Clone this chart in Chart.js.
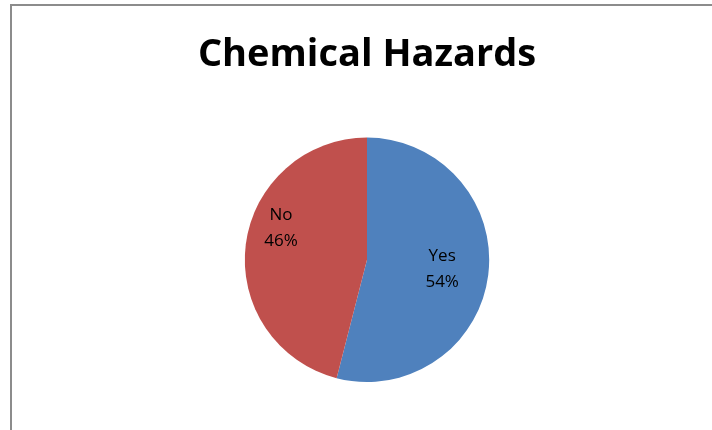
<!DOCTYPE html>
<html>
<head>
<meta charset="utf-8">
<script src="https://cdn.jsdelivr.net/npm/chart.js@4/dist/chart.umd.min.js"></script>
<style>
  html, body { margin: 0; padding: 0; background: #fff; overflow: hidden; }
  #frame {
    position: absolute; left: 10px; top: 4px; width: 720px; height: 440px;
    border: 2px solid #8c8c8c;
  }
  #wrap { position: absolute; left: 12px; top: 6px; width: 700px; height: 424px; }
</style>
</head>
<body>
<div id="frame"></div>
<div id="wrap"><canvas id="chart"></canvas></div>
<script>
const categories = ['Yes', 'No'];
const percentValues = [54, 46];
const sliceColors = ['#4F81BD', '#C0504D'];

// draws "Category\nNN%" inside each slice
const sliceLabels = {
  id: 'sliceLabels',
  afterDatasetsDraw(chart, args, opts) {
    const { ctx } = chart;
    const meta = chart.getDatasetMeta(0);
    ctx.save();
    ctx.font = opts.font;
    ctx.fillStyle = '#000';
    ctx.textAlign = 'center';
    ctx.textBaseline = 'middle';
    meta.data.forEach((arc, i) => {
      const mid = (arc.startAngle + arc.endAngle) / 2 + (opts.angleShift[i] || 0);
      const r = arc.outerRadius * opts.radius[i];
      const x = arc.x + Math.cos(mid) * r;
      const y = arc.y + Math.sin(mid) * r;
      ctx.fillText(categories[i], x, y - 13);
      ctx.fillText(percentValues[i] + '%', x, y + 13);
    });
    ctx.restore();
  }
};

new Chart(document.getElementById('chart'), {
  type: 'pie',
  data: {
    labels: categories,
    datasets: [{
      data: percentValues,
      backgroundColor: sliceColors,
      borderWidth: 0
    }]
  },
  options: {
    responsive: true,
    maintainAspectRatio: false,
    animation: false,
    layout: { padding: { left: 10, bottom: 48 } },
    plugins: {
      legend: { display: false },
      tooltip: { enabled: false },
      title: {
        display: true,
        text: 'Chemical Hazards',
        color: '#000',
        font: { family: 'Open Sans', size: 38, weight: 'bold' },
        padding: { top: 26, bottom: 60 }
      },
      sliceLabels: {
        font: '17px "Open Sans"',
        radius: [0.62, 0.75],
        angleShift: [0, 0.23]
      }
    }
  },
  plugins: [sliceLabels]
});
</script>
</body>
</html>
